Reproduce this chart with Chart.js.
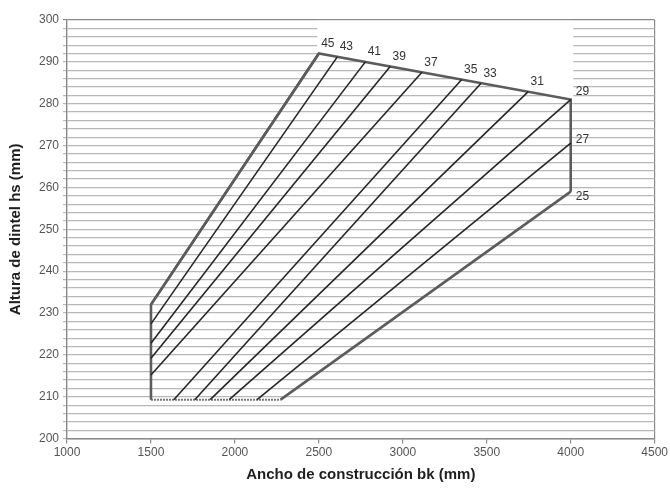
<!DOCTYPE html>
<html>
<head>
<meta charset="utf-8">
<script src="https://cdn.jsdelivr.net/npm/chart.js@4.4.1/dist/chart.umd.min.js"></script>
<style>
    html, body { margin: 0; padding: 0; background: #ffffff; }
    #wrap { width: 670px; height: 488px; position: relative; }
</style>
</head>
<body>
<div id="wrap"><canvas id="lintelChart"></canvas></div>
<script>
// thickness labels and the line for each one (start on left/bottom edge, end on top/right edge)
const lineLabels = [45, 43, 41, 39, 37, 35, 33, 31, 29, 27, 25];
const lineStartX = [1500, 1500, 1500, 1500, 1500, 1636, 1761, 1853, 1966, 2132, 2272];
const lineStartY = [232, 227.4, 222.8, 219.2, 215.2, 209.3, 209.3, 209.3, 209.3, 209.3, 209.3];
const lineEndX = [2500, 2610, 2777, 2925, 3114, 3351, 3466, 3747, 4000, 4000, 4000];
const lineEndY = [292, 291.2, 290.0, 288.9, 287.5, 285.8, 284.9, 282.9, 281, 270.6, 259];

// outline of the area (left side, top, right side) and the bottom edge
const outlineX = [1500, 1500, 2500, 4000, 4000];
const outlineY = [209.3, 232, 292, 281, 259];
const bottomX = [1500, 2272];
const bottomY = [209.3, 209.3];

// white area above the top edge where the grid is blanked for the labels
const maskX = [2490, 4015, 4015, 4000, 2500, 2490];
const maskY = [299.8, 299.8, 281, 281, 292, 292];

const xTicks = [1000, 1500, 2000, 2500, 3000, 3500, 4000, 4500];

const FONT = "'Liberation Sans', Arial, sans-serif";

function pts(xs, ys) {
    return xs.map((x, i) => ({ x: x, y: ys[i] }));
}

const datasets = [];

lineLabels.forEach((lbl, i) => {
    const edge = i === 0 || i === lineLabels.length - 1;
    datasets.push({
        label: String(lbl),
        data: pts([lineStartX[i], lineEndX[i]], [lineStartY[i], lineEndY[i]]),
        showLine: true,
        borderColor: edge ? "#5c5c5c" : "#262626",
        borderWidth: edge ? 2.6 : 1.6,
        pointRadius: 0,
        order: 1
    });
});

datasets.push({
    label: "outline",
    data: pts(outlineX, outlineY),
    showLine: true,
    borderColor: "#5c5c5c",
    borderWidth: 2.6,
    pointRadius: 0,
    order: 1
});

datasets.push({
    label: "bottom",
    data: pts(bottomX, bottomY),
    showLine: true,
    borderColor: "#777777",
    borderWidth: 2,
    borderDash: [2, 1],
    pointRadius: 0,
    order: 1
});

datasets.push({
    label: "mask",
    data: pts(maskX, maskY),
    showLine: true,
    fill: "shape",
    backgroundColor: "#ffffff",
    borderColor: "rgba(0,0,0,0)",
    borderWidth: 0,
    pointRadius: 0,
    order: 5
});

const labelPlugin = {
    id: "lineLabels",
    afterDatasetsDraw(chart) {
        const ctx = chart.ctx;
        const xs = chart.scales.x;
        const ys = chart.scales.y;
        ctx.save();
        ctx.font = "12px " + FONT;
        ctx.fillStyle = "#333333";
        ctx.textBaseline = "middle";
        lineLabels.forEach((lbl, i) => {
            const px = xs.getPixelForValue(lineEndX[i]);
            const py = ys.getPixelForValue(lineEndY[i]);
            if (lineEndX[i] < 4000) {
                ctx.textAlign = "center";
                ctx.fillText(String(lbl), px + 9, py - 10);
            } else {
                ctx.textAlign = "left";
                let dy = -3;
                if (i === 8) dy = -8;
                if (i === lineLabels.length - 1) dy = 5;
                ctx.fillText(String(lbl), px + 5, py + dy);
            }
        });
        ctx.restore();
    }
};

new Chart(document.getElementById("lintelChart"), {
    type: "scatter",
    data: { datasets: datasets },
    options: {
        responsive: true,
        maintainAspectRatio: false,
        animation: false,
        layout: { padding: { top: 20, right: 2, left: 7, bottom: 4 } },
        plugins: {
            legend: { display: false },
            tooltip: { enabled: false }
        },
        scales: {
            x: {
                type: "linear",
                min: 1000,
                max: 4500,
                afterBuildTicks: (axis) => {
                    axis.ticks = xTicks.map((v) => ({ value: v }));
                },
                ticks: {
                    color: "#555555",
                    font: { family: FONT, size: 12 },
                    maxRotation: 0,
                    padding: 2,
                    callback: (v) => String(v)
                },
                grid: {
                    drawOnChartArea: true,
                    color: (c) => (c.tick && c.tick.value === 4500 ? "#8a8a8a" : "rgba(0,0,0,0)"),
                    tickColor: "#8a8a8a",
                    tickLength: 5,
                    lineWidth: 1.2
                },
                border: { color: "#8a8a8a", width: 1.4 },
                title: {
                    display: true,
                    text: "Ancho de construcción bk (mm)",
                    color: "#1e1e1e",
                    font: { family: FONT, size: 15, weight: "bold" },
                    padding: { top: 4, bottom: 0 }
                }
            },
            y: {
                type: "linear",
                min: 200,
                max: 300,
                ticks: {
                    stepSize: 2,
                    autoSkip: false,
                    color: "#555555",
                    font: { family: FONT, size: 12 },
                    padding: 4,
                    callback: (v) => (v % 10 === 0 ? String(v) : "")
                },
                grid: {
                    color: (c) => (c.tick && c.tick.value === 300 ? "#8a8a8a" : "#b8b8b8"),
                    lineWidth: 1.2,
                    tickLength: 4
                },
                border: { color: "#8a8a8a", width: 1.4 },
                title: {
                    display: true,
                    text: "Altura de dintel hs (mm)",
                    color: "#1e1e1e",
                    font: { family: FONT, size: 15, weight: "bold" },
                    padding: { top: 0, bottom: 10 }
                }
            }
        }
    },
    plugins: [labelPlugin]
});
</script>
</body>
</html>
